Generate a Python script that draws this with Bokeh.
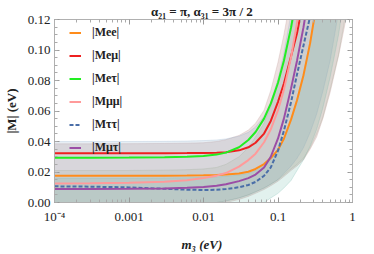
from bokeh.plotting import figure
from bokeh.models import (LogAxis, LinearAxis, FixedTicker, Legend, LegendItem,
                          Range1d, PrintfTickFormatter)
from bokeh.embed import file_html
from bokeh.resources import INLINE

# ---- data ----
m3 = [1e-4, 3e-4, 1e-3, 3e-3, 6e-3, 0.01, 0.015, 0.02, 0.03, 0.04, 0.05, 0.065,
      0.08, 0.1, 0.12, 0.15, 0.18, 0.22, 0.27, 0.33, 0.4, 0.5, 0.65, 0.8, 1.0]

mee = [.0176, .0176, .0176, .0176, .0177, .0178, .0180, .0183, .0190, .0202, .0220, .0252,
       .0292, .0345, .0418, .0545, .0670, .0835, .1045, .1305, .160, .202, .265, .33, .415]
memu = [.0323, .0323, .0323, .0323, .0324, .0325, .0327, .0330, .0342, .0362, .0392, .0452,
        .0535, .0660, .0780, .0960, .1110, .1330, .160, .193, .232, .288, .37, .455, .57]
metau = [.0294, .0294, .0295, .0297, .0300, .0305, .0314, .0327, .0362, .0410, .0462, .0550,
         .0648, .0785, .0930, .1150, .137, .166, .203, .247, .30, .37, .48, .59, .74]
mmumu = [.0125, .0126, .0129, .0136, .0146, .0160, .0176, .0193, .0235, .0278, .0320, .0395,
         .0480, .0605, .0740, .0955, .1180, .148, .185, .229, .28, .355, .465, .575, .72]
mtautau = [.0106, .0104, .0099, .0090, .0084, .0082, .0083, .0088, .0100, .0115, .0135, .0175,
           .0230, .0340, .0470, .0660, .0840, .1030, .1220, .146, .175, .215, .28, .34, .42]
mmutau = [.0089, .0089, .0090, .0092, .0096, .0102, .0110, .0120, .0140, .0160, .0183, .0230,
          .0300, .0420, .0550, .0750, .0930, .1150, .142, .173, .21, .26, .34, .42, .52]

rosy_lo = [0, 0, 0, 0, 0, 0, 0, 0, .002, .004, .006, .0085,
           .011, .014, .017, .021, .024, .028, .035, .043, .055, .072, .096, .118, .15]
rosy_hi = [.0385, .0385, .0386, .0387, .0389, .0392, .0400, .0412, .0440, .0475, .0520, .0605,
           .0735, .0920, .1100, .1360, .162, .197, .24, .29, .35, .43, .56, .68, .85]
blue_lo = [0, 0, 0, 0, 0, 0, 0, .001, .003, .005, .007, .0095,
           .012, .015, .019, .024, .029, .036, .046, .058, .073, .093, .125, .155, .195]
blue_hi = [.0400, .0400, .0400, .0401, .0403, .0406, .0410, .0417, .0435, .0460, .0495, .0565,
           .0660, .0810, .0980, .1240, .150, .183, .225, .275, .33, .41, .53, .65, .81]
teal_lo = [0, 0, 0, 0, 0, 0, 0, 0, 0, 0, 0, 0,
           .003, .006, .0095, .0145, .021, .028, .037, .048, .062, .082, .11, .14, .18]
teal_hi = [.0160, .0160, .0160, .0161, .0162, .0165, .0168, .0172, .0180, .0190, .0210, .0240,
           .0280, .0340, .0420, .0550, .0680, .0850, .1060, .130, .16, .20, .26, .32, .40]
olive_lo = [0, 0, 0, 0, 0, 0, 0, .001, .003, .005, .007, .0095,
            .012, .015, .018, .022, .025, .029, .036, .045, .056, .074, .097, .122, .155]
olive_hi = [.021, .021, .021, .0212, .0215, .022, .023, .025, .030, .036, .043, .052,
            .063, .078, .094, .113, .130, .155, .19, .23, .28, .35, .45, .55, .69]

x_ticks = [1e-4, 1e-3, 1e-2, 1e-1, 1.0]
x_tick_labels = ["10\u207b\u2074", "0.001", "0.01", "0.1", "1"]
y_ticks = [0.0, 0.02, 0.04, 0.06, 0.08, 0.10, 0.12]

names = ["|Mee|", "|Me\u03bc|", "|Me\u03c4|", "|M\u03bc\u03bc|", "|M\u03c4\u03c4|", "|M\u03bc\u03c4|"]
series = [mee, memu, metau, mmumu, mtautau, mmutau]
colors = ["#ff8c1a", "#ee2020", "#22ee22", "#ff9a9a", "#4a6ea8", "#9b4ea6"]

SERIF = "Times"

p = figure(x_axis_type="log", output_backend="svg", toolbar_location=None,
           frame_width=298, frame_height=183,
           min_border_left=45, min_border_right=15, min_border_top=18, min_border_bottom=37,
           x_range=Range1d(1e-4, 1.0), y_range=Range1d(0.0, 0.12))
p.background_fill_color = "white"
p.border_fill_color = "white"
p.xgrid.visible = False
p.ygrid.visible = False
p.outline_line_color = "#b0b0b0"

# bands
for lo, hi, col, al in [(rosy_lo, rosy_hi, "#b88a86", 0.26),
                        (blue_lo, blue_hi, "#86a9c8", 0.20),
                        (teal_lo, teal_hi, "#6cb8aa", 0.20),
                        (olive_lo, olive_hi, "#98a890", 0.16)]:
    p.varea(x=m3, y1=lo, y2=hi, fill_color=col, fill_alpha=al)
    p.line(m3, lo, line_color=col, line_alpha=0.3, line_width=0.8)
    p.line(m3, hi, line_color=col, line_alpha=0.3, line_width=0.8)

renderers = []
for ys, col, nm in zip(series, colors, names):
    if nm == "|M\u03c4\u03c4|":
        r = p.line(m3, ys, line_color=col, line_width=2, line_dash="4 2")
    else:
        r = p.line(m3, ys, line_color=col, line_width=2)
    renderers.append(r)

# axes
minor_x = [k * 10.0 ** e for e in range(-4, 0) for k in range(2, 10)]
xa = p.xaxis[0]
xa.ticker = FixedTicker(ticks=x_ticks, minor_ticks=minor_x)
xa.major_label_overrides = {t: l for t, l in zip(x_ticks, x_tick_labels)}
ya = p.yaxis[0]
minor_y = [i * 0.005 for i in range(25)]
ya.ticker = FixedTicker(ticks=y_ticks, minor_ticks=minor_y)
ya.formatter = PrintfTickFormatter(format="%.2f")

for ax in (xa, ya):
    ax.major_tick_in = 5
    ax.major_tick_out = 0
    ax.minor_tick_in = 3
    ax.minor_tick_out = 0
    ax.axis_line_color = "#b0b0b0"
    ax.major_tick_line_color = "#999999"
    ax.minor_tick_line_color = "#aaaaaa"
    ax.major_label_text_font = SERIF
    ax.major_label_text_font_size = "13px"
    ax.major_label_text_color = "#222222"
    ax.axis_label_text_font = SERIF
    ax.axis_label_text_font_style = "bold"
    ax.axis_label_text_font_size = "13px"
    ax.axis_label_text_color = "#222222"
xa.major_label_standoff = 6
ya.major_label_standoff = 4
xa.axis_label = "m\u2083  (eV)"
xa.axis_label_text_font_style = "bold italic"
xa.axis_label_standoff = 10
ya.axis_label = "|M| (eV)"
ya.axis_label_standoff = 6

top = LogAxis(ticker=FixedTicker(ticks=x_ticks, minor_ticks=minor_x),
              major_label_text_font_size="1px", major_label_text_alpha=0,
              major_label_standoff=0,
              major_tick_in=5, major_tick_out=0, minor_tick_in=3, minor_tick_out=0,
              axis_line_color="#b0b0b0", major_tick_line_color="#999999",
              minor_tick_line_color="#aaaaaa")
right = LinearAxis(ticker=FixedTicker(ticks=y_ticks, minor_ticks=minor_y),
                   major_label_text_font_size="1px", major_label_text_alpha=0,
                   major_label_standoff=0,
                   major_tick_in=5, major_tick_out=0, minor_tick_in=3, minor_tick_out=0,
                   axis_line_color="#b0b0b0", major_tick_line_color="#999999",
                   minor_tick_line_color="#aaaaaa")
p.add_layout(top, "above")
p.add_layout(right, "right")

p.title.text = "\u03b1\u2082\u2081 = \u03c0,  \u03b1\u2083\u2081 = 3\u03c0 / 2"
p.title.align = "center"
p.title.text_font = SERIF
p.title.text_font_size = "13px"
p.title.text_font_style = "bold"
p.title.text_color = "#222222"
p.title.standoff = 2

legend = Legend(items=[LegendItem(label=n, renderers=[r]) for n, r in zip(names, renderers)],
                location=(15, 47), padding=0, margin=0, spacing=8,
                label_height=15, glyph_height=15, glyph_width=12, label_standoff=11,
                label_text_font=SERIF, label_text_font_size="12px",
                label_text_font_style="bold", label_text_color="#222222",
                background_fill_alpha=0, border_line_alpha=0)
p.add_layout(legend, "center")

open("out.html", "w").write(file_html(p, INLINE))
